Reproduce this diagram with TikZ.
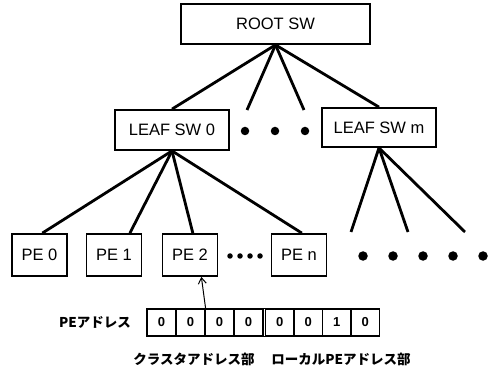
\documentclass[tikz,border=0pt]{standalone}
\usepackage{fontspec}
\setmainfont{Liberation Sans}
\newfontfamily\jpfont{Noto Sans CJK JP}
\usetikzlibrary{calc,arrows.meta}
\begin{document}
\begin{tikzpicture}[x=1pt,y=-1pt,
  box/.style={draw,line width=1.8pt,inner sep=0pt,font=\fontsize{16.5}{18}\selectfont},
  pebox/.style={box,minimum width=55pt,minimum height=42pt},
  link/.style={line width=2.8pt},
  cellL/.style={draw,line width=1.2pt,minimum width=29pt,minimum height=27pt,inner sep=0pt,font=\bfseries\fontsize{13}{15}\selectfont},
  cellR/.style={cellL,minimum width=28.5pt},
  bigdot/.style={circle,fill,inner sep=0pt,minimum size=9.5pt},
  middot/.style={circle,fill,inner sep=0pt,minimum size=8.5pt},
  smalldot/.style={circle,fill,inner sep=0pt,minimum size=5.5pt},
  jp/.style={inner sep=0pt,font=\jpfont\bfseries\fontsize{13.5}{15}\selectfont}]
\useasboundingbox (0,0) rectangle (490,374);

% switches
\node[box,minimum width=189pt,minimum height=40pt] (root) at (275.5,24) {ROOT SW};
\node[box,minimum width=114pt,minimum height=40pt] (leaf0) at (172,130) {LEAF SW 0};
\node[box,minimum width=114pt,minimum height=39pt] (leafm) at (379,127.5) {LEAF SW m};

% processing elements
\node[pebox] (pe0) at (39.5,255) {PE 0};
\node[pebox] (pe1) at (114,255) {PE 1};
\node[pebox] (pe2) at (190,255) {PE 2};
\node[pebox] (pen) at (299,255) {PE n};

% open ends of links
\coordinate (r1) at (247,110);
\coordinate (r2) at (304,110);
\coordinate (m1) at (351,232);
\coordinate (m2) at (408,232);
\coordinate (m3) at (465,232);

% root links
\draw[link] (root.south) -- (leaf0.north);
\draw[link] (root.south) -- (r1);
\draw[link] (root.south) -- (r2);
\draw[link] (root.south) -- (leafm.north);

% leaf links
\draw[link] (leaf0.south) -- ($(pe0.north west)!0.55!(pe0.north east)$);
\draw[link] (leaf0.south) -- ($(pe1.north west)!0.78!(pe1.north east)$);
\draw[link] (leaf0.south) -- ($(pe2.north west)!0.55!(pe2.north east)$);
\draw[link] (leaf0.south) -- ($(pen.north west)!0.55!(pen.north east)$);
\draw[link] (leafm.south) -- (m1);
\draw[link] (leafm.south) -- (m2);
\draw[link] (leafm.south) -- (m3);

% ellipsis dots
\foreach \x [count=\i] in {245,275,305} \node[middot] (ld\i) at (\x,131) {};
\foreach \x [count=\i] in {230,240,250,260} \node[smalldot] (pd\i) at (\x,256) {};
\foreach \x [count=\i] in {363,393,423,453,483} \node[bigdot] (bd\i) at (\x,256) {};

% address register
\foreach \v [count=\i] in {0,0,0,0} \node[cellL] (c\i) at (132.5+29*\i,322.5) {\v};
\foreach \v [count=\i from 5] in {0,0,1,0} \node[cellR] (c\i) at (137.25+28.5*\i,322.5) {\v};
\draw[line width=1.2pt] (c4.north east) -- (c5.north west);
\draw[line width=1.2pt] (c4.south east) -- (c5.south west);

\draw[line width=1pt,-{Straight Barb[length=6pt,width=8pt]}] (c2.north east) -- ($(pe2.south west)!0.7!(pe2.south east)$);

% labels
\node[jp,anchor=east] (addr) at (131,322) {PEアドレス};
\node[jp] (cluster) at (194,359) {クラスタアドレス部};
\node[jp] (local) at (341,359) {ローカルPEアドレス部};
\end{tikzpicture}
\end{document}
